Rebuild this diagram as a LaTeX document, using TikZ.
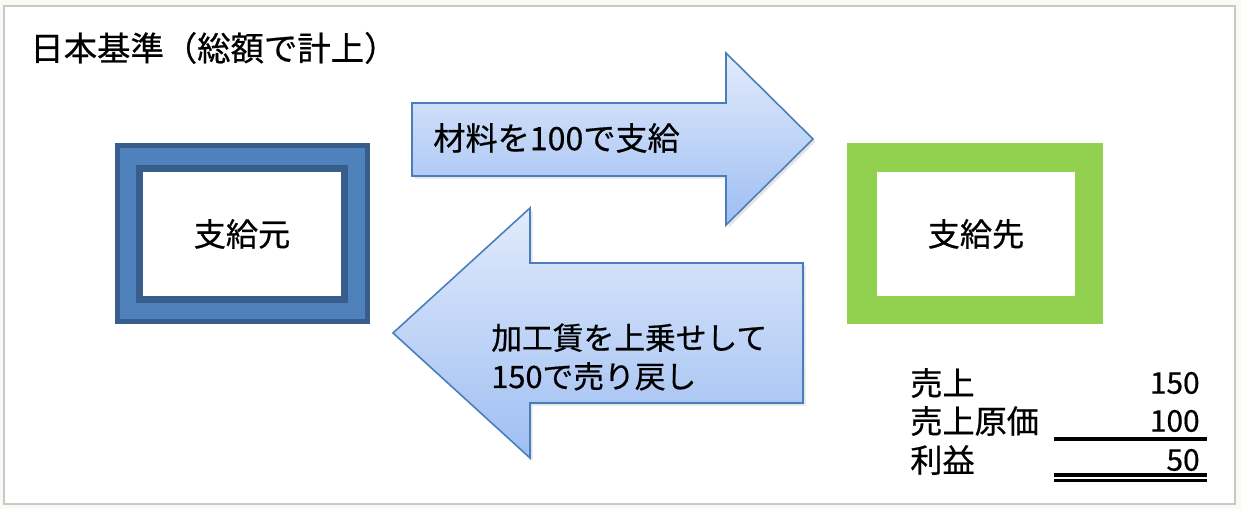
\documentclass[tikz,border=0pt]{standalone}
\usepackage{fontspec}
\setmainfont{Noto Sans CJK JP}[FakeBold=0.6]
\usetikzlibrary{shadows}
\definecolor{pagegray}{HTML}{FAF9F4}
\definecolor{framegray}{HTML}{C8C8C8}
\definecolor{frameblue}{HTML}{4F81BD}
\definecolor{darkblue}{HTML}{385D8A}
\definecolor{leafgreen}{HTML}{92D050}
\definecolor{arrowline}{HTML}{4A7EBB}
\definecolor{arrowtop}{HTML}{E2EBFC}
\definecolor{arrowbottom}{HTML}{9EBEF2}

\begin{document}
\begin{tikzpicture}[
        x={(0.02cm,0)}, y={(0,-0.02cm)},
        label text/.style={inner sep=0pt, font=\fontsize{18.3}{22}\selectfont},
        number text/.style={inner sep=0pt, font=\fontsize{17}{22}\selectfont},
        block arrow/.style={draw=arrowline, line width=0.9pt, line join=miter,
            top color=arrowtop, bottom color=arrowbottom,
            drop shadow={opacity=0.2, shadow xshift=1.5pt, shadow yshift=-1.5pt}},
        giver outer/.style={rectangle, draw=darkblue, fill=frameblue, line width=2.8pt},
        giver inner/.style={rectangle, draw=darkblue, fill=white, line width=4pt, label text},
        taker outer/.style={rectangle, fill=leafgreen},
        taker inner/.style={rectangle, fill=white, label text}
    ]
    
    % Page and frame
    \fill[pagegray] (0,0) rectangle (1241,509);
    \draw[fill=white, draw=framegray, line width=0.8pt] (4,6) rectangle (1235,504);
    \useasboundingbox (0,0) rectangle (1241,509);
    
    % Title
    \node[inner sep=0pt, anchor=west, font=\fontsize{19}{22}\selectfont] (title) at (30,48) {日本基準（総額で計上）};
    
    % Supplier (left box)
    \node[giver outer, minimum width=5cm, minimum height=3.52cm] (giver) at (242.5,233.5) {};
    \node[giver inner, minimum width=4.12cm, minimum height=2.62cm] (giverbox) at (242,234) {支給元};
    
    % Receiver (right box)
    \node[taker outer, minimum width=5.12cm, minimum height=3.62cm] (taker) at (975,233.5) {};
    \node[taker inner, minimum width=3.96cm, minimum height=2.48cm] (takerbox) at (976,234) {支給先};
    
    % Block arrows
    \path[block arrow] (412,103) -- (726,103) -- (726,53) -- (813,139) -- (726,225) -- (726,176) -- (412,176) -- cycle;
    \node[label text, anchor=west] (supply) at (433,138) {材料を100で支給};
    
    \path[block arrow] (803,263) -- (530,263) -- (530,208) -- (393,333) -- (530,458) -- (530,403) -- (803,403) -- cycle;
    \node[inner sep=0pt, font=\fontsize{17.5}{22}\selectfont, anchor=west, align=left] (resale) at (491,357) {加工賃を上乗せして\\150で売り戻し};
    
    % Profit table
    \node[label text, anchor=west] (sales) at (910,383) {売上};
    \node[label text, anchor=west] (cost) at (910,421) {売上原価};
    \node[label text, anchor=west] (profit) at (910,460) {利益};
    \node[number text, anchor=east] (salesval) at (1200,383) {150};
    \node[number text, anchor=east] (costval) at (1200,421) {100};
    \node[number text, anchor=east] (profitval) at (1200,460) {50};
    \draw[line width=1.8pt] (1054,439) -- (1207,439);
    \draw[line width=1.8pt] (1054,475) -- (1207,475);
    \draw[line width=1.8pt] (1054,480.5) -- (1207,480.5);
    
\end{tikzpicture}
\end{document}
